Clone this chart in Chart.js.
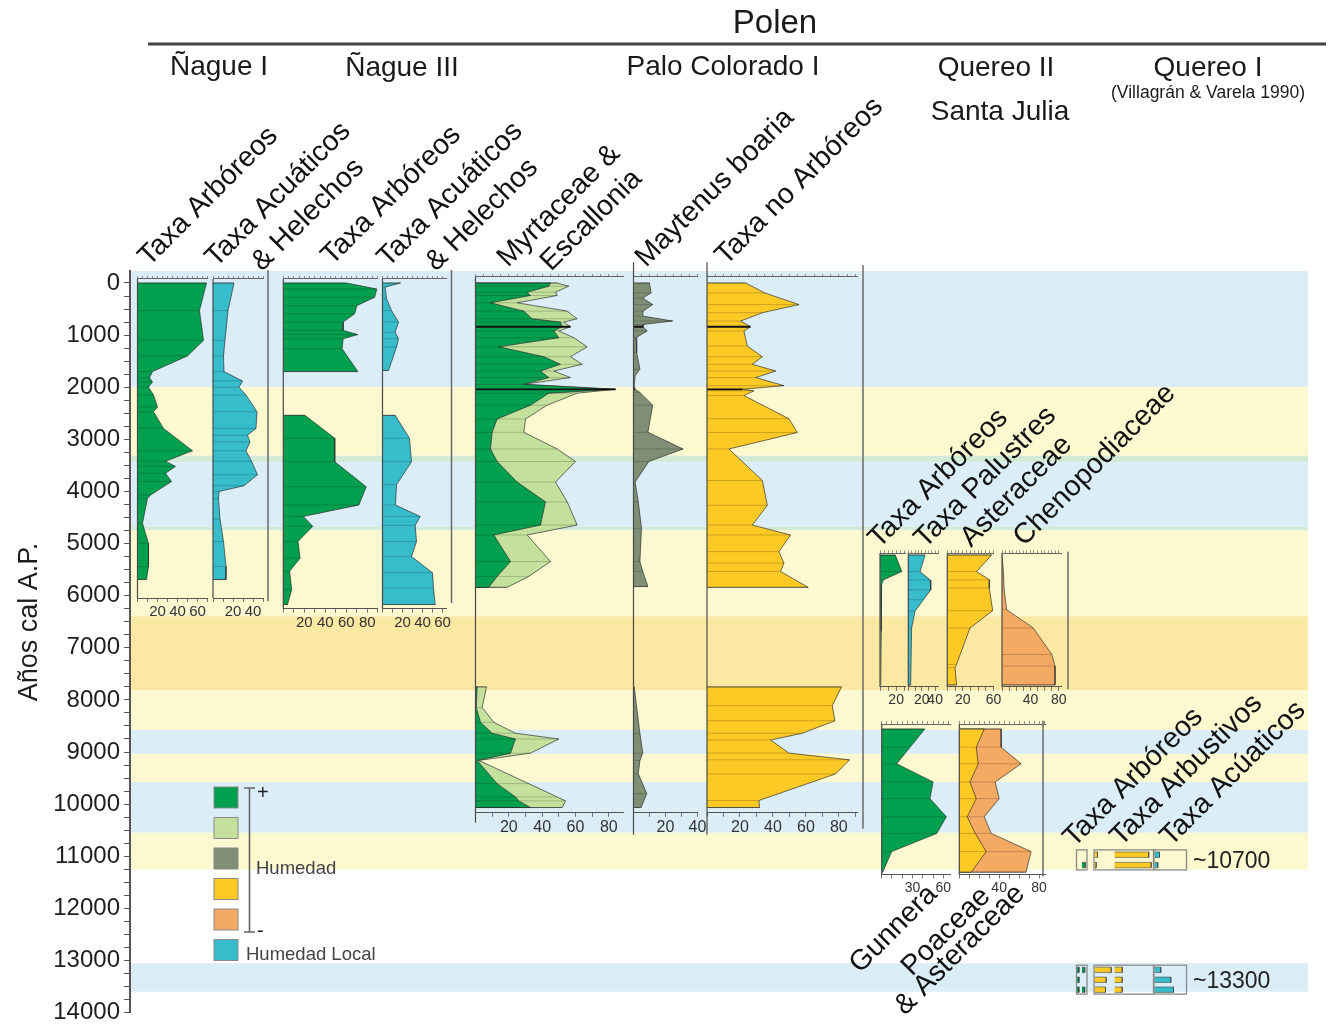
<!DOCTYPE html>
<html>
<head>
<meta charset="utf-8">
<script src="https://cdn.jsdelivr.net/npm/chart.js@4.4.1/dist/chart.umd.min.js"></script>
<style>
  html, body { margin: 0; padding: 0; background: #ffffff; }
  canvas { display: block; }
</style>
</head>
<body>
<canvas id="pollen" width="1332" height="1031"></canvas>
<script>
// ---------------- Data (ages in cal yr BP, values in %) ----------------

// Ñague I
const nagueI_arbAges = [0, 530, 1100, 1400, 1700, 1820, 1900, 2000, 2150, 2380, 2470, 2790, 3220, 3420, 3520, 3650, 3810, 4070, 4130, 4610, 5000, 5440, 5690];
const nagueI_arb     = [69, 62, 66, 50, 15, 12, 15, 11, 16, 20, 16, 26, 55, 28, 38, 28, 34, 13, 10, 5, 11, 11, 9];
const nagueI_acuAges = [0, 530, 1100, 1400, 1700, 1880, 2000, 2150, 2470, 2790, 2920, 3050, 3220, 3420, 3680, 3890, 4000, 4140, 4530, 4960, 5440, 5690];
const nagueI_acu     = [21, 15, 12, 10.5, 11, 29.5, 26, 33, 44, 43, 34.5, 37, 33, 38.5, 44.5, 31, 6, 5.5, 7, 10.5, 13, 13];

// Ñague III (two sections)
const nagueIII_arbAgesA = [0, 115, 275, 435, 590, 750, 910, 990, 1070, 1260, 1700];
const nagueIII_arbA     = [60, 89, 87, 70, 68, 57, 57, 71, 57, 56, 71];
const nagueIII_arbAgesB = [2540, 2980, 3430, 3910, 4260, 4480, 4670, 4960, 5280, 5530, 5880, 6170];
const nagueIII_arbB     = [20.6, 49, 49, 79, 72, 19, 28, 14, 16, 6, 8, 4];
const nagueIII_acuAgesA = [0, 80, 300, 530, 750, 945, 1070, 1230, 1680];
const nagueIII_acuA     = [18, 2.7, 4, 9, 16, 12.7, 16, 14, 6];
const nagueIII_acuAgesB = [2540, 2980, 3430, 3870, 4260, 4480, 4650, 4960, 5250, 5560, 5850, 6170];
const nagueIII_acuB     = [12.7, 27, 29, 14, 13, 37.7, 32.7, 34, 29, 50, 51, 52.7];

// Palo Colorado I (two sections)
const paloAgesA   = [0, 62, 177, 240, 380, 540, 686, 750, 840, 920, 1050, 1225, 1415, 1560, 1690, 1815, 1945, 2040, 2115, 2345, 2610, 2865, 3185, 3425, 3820, 4200, 4645, 4835, 5345, 5630, 5840];
const myrtaceaeA  = [45, 44, 31, 33, 9, 29, 34, 51, 52, 47, 50, 14, 41, 51, 39, 44, 29, 84, 44, 33, 13, 10, 9, 13, 25, 42, 39, 11, 21, 13, 8];
const escalloniaA = [4, 12, 17, 16, 16, 26, 27, 2, 5, 3, 9, 53, 16, 13, 8, 13, 0, 0, 17, 10, 17, 19, 40, 47, 23, 13, 22, 20, 24, 19, 11];
const paloAgesB   = [7750, 8145, 8430, 8640, 8750, 9022, 9162, 9607, 9862, 9938, 10065];
const myrtaceaeB  = [1, 0.5, 3, 10, 24, 21, 1, 13, 24, 26, 33];
const escalloniaB = [5.6, 3.5, 8, 14, 26, 12, 1, 19, 25, 28, 19];

const maytenusAgesA = [0, 190, 290, 415, 540, 635, 730, 795, 840, 920, 1050, 1335, 1655, 1780, 1970, 2040, 2100, 2345, 2865, 3185, 3425, 3820, 4200, 4710, 5345, 5535, 5825];
const maytenusA     = [10, 11, 5.8, 12, 6, 5.8, 24.5, 6, 6, 8.6, 1.6, 2, 4, 1, 0.5, 1, 4, 12, 9, 31, 9.6, 1, 3, 5, 4, 5.8, 9];
const maytenusAgesB = [7750, 7890, 8145, 8640, 9022, 9162, 9417, 9798, 10065];
const maytenusB     = [0.5, 1, 2, 4, 5.8, 4, 3, 8.3, 4.8];

const noArbAgesA = [0, 190, 415, 570, 730, 840, 920, 1210, 1415, 1560, 1690, 1815, 1970, 2040, 2070, 2160, 2605, 2870, 3185, 3790, 4265, 4645, 4835, 5155, 5375, 5535, 5840];
const noArbA     = [23.4, 35, 55.8, 33.6, 20.4, 26.4, 22.4, 24.4, 33.6, 27.5, 41.7, 29.5, 46.7, 21.4, 28.5, 22.4, 49.7, 54.8, 13.3, 33.6, 36.6, 27.5, 50.7, 43.6, 46.7, 44.6, 61.4];
const noArbAgesB = [7750, 8110, 8400, 8640, 8770, 9020, 9150, 9420, 9930, 10065];
const noArbB     = [81.6, 76, 77.6, 57.8, 38.6, 49.7, 86.5, 78, 31.5, 31.9];
const paloMarkedAges = [840, 2040];

// Quereo II / Santa Julia
const sjArbAges  = [5220, 5537, 5697, 5792, 6046, 6682, 7713];
const sjArb      = [19, 27, 4, 2, 1.5, 1.5, 1];
const sjPalAges  = [5220, 5537, 5697, 5887, 6078, 6300, 6619, 7713];
const sjPal      = [25, 17.5, 32.5, 33.5, 22.5, 10, 5, 3.5];
const sjAstAges  = [5220, 5537, 5697, 5855, 6288, 6619, 7318, 7382, 7713];
const sjAst      = [57.6, 38, 55, 54.5, 59, 29.5, 12, 10, 12];
const sjChenAges = [5220, 5537, 5887, 6269, 6619, 7128, 7350, 7713];
const sjChen     = [0.5, 2, 3, 6.6, 44, 70, 74.6, 74.6];

const sjLowAges     = [8558, 8907, 9226, 9575, 9894, 10243, 10561, 10911, 11306];
const gunnera       = [42, 27.6, 14.6, 50, 47, 63, 53.6, 9.7, 1];
const poaceae       = [25, 17, 19, 10.7, 17, 8, 16, 27, 12];
const asteraceaeLow = [17, 25, 43, 25.3, 23, 17, 16, 45, 55];

// Quereo I (Villagrán & Varela 1990)
const quereoI_ages    = [10970, 11170, 13180, 13370, 13560];
const quereoI_arbA    = [0, 0, 4, 4, 4];
const quereoI_arbB    = [0, 6.6, 5.4, 0, 5.4];
const quereoI_arbusA  = [6, 3.4, 33.4, 23.4, 22];
const quereoI_arbusB  = [68.6, 73.4, 15.4, 15.4, 15.4];
const quereoI_acu     = [10, 6.6, 12.6, 32.6, 38];
const quereoI_dates   = ['~10700', '~13300'];
const quereoI_groups  = [[10878, 11262], [13090, 13645]];

// Climatic phases (background bands)
const bandFrom = [-230, 2000, 3315, 3440, 4680, 4745, 6396, 7815, 8578, 9036, 9576, 10549, 13050];
const bandTo   = [2000, 3315, 3440, 4680, 4745, 6396, 7815, 8578, 9036, 9576, 10549, 11255, 13600];
const bandType = ['humid', 'dry', 'mixed', 'humid', 'mixed', 'dry', 'arid', 'dry', 'humid', 'dry', 'humid', 'dry', 'humid'];

// Axis ticks
const ageMin = -230, ageMax = 14000, ageMinorStep = 250, ageLabelStep = 1000;

// ---------------- Styling ----------------
const FONT = '"Liberation Sans", Arial, Helvetica, sans-serif';
const COL = {
  dark: '#00a04f', light: '#c3e19c', grey: '#7f8f75',
  yellow: '#fcc925', orange: '#f5aa64', cyan: '#37bccc'
};
const BAND_COL = { humid: '#dbeef8', dry: '#fcf8d0', mixed: '#d3ead7', arid: '#fbe8a3' };

// Panel layout: horizontal extent in px, scale max, vertical extent in ages
const panels = [
  { id: 'n1a', left: 137.5, right: 207.5, max: 70,   top: -77,  bottom: 6046,  labels: [20, 40, 60],     fs: 15 },
  { id: 'n1b', left: 213,   right: 263,   max: 50,   top: -77,  bottom: 6046,  labels: [20, 40],         fs: 15 },
  { id: 'n3a', left: 283.3, right: 377.8, max: 90,   top: -77,  bottom: 6250,  labels: [20, 40, 60, 80], fs: 15 },
  { id: 'n3b', left: 382.5, right: 446.5, max: 64,   top: -77,  bottom: 6250,  labels: [20, 40, 60],     fs: 15 },
  { id: 'pc1', left: 475.5, right: 623,   max: 88.5, top: -116, bottom: 10167, labels: [20, 40, 60, 80], fs: 16, lineTo: 10358 },
  { id: 'pc2', left: 633.5, right: 697.5, max: 40,   top: -116, bottom: 10167, labels: [20, 40],         fs: 16, lineFrom: -400, lineTo: 10587 },
  { id: 'pc3', left: 707,   right: 857,   max: 91,   top: -116, bottom: 10167, labels: [20, 40, 60, 80], fs: 16, lineFrom: -400, lineTo: 10587 },
  { id: 'sj1', left: 880,   right: 905,   max: 31,   top: 5188, bottom: 7750,  labels: [20],             fs: 14 },
  { id: 'sj2', left: 908.3, right: 938.5, max: 45,   top: 5188, bottom: 7750,  labels: [20, 40],         fs: 14 },
  { id: 'sj3', left: 947.3, right: 993.5, max: 60,   top: 5188, bottom: 7750,  labels: [20, 60],         fs: 14 },
  { id: 'sj4', left: 1002,  right: 1061.7, max: 84,  top: 5188, bottom: 7750,  labels: [40, 80],         fs: 14 },
  { id: 'sj5', left: 881.7, right: 950,   max: 66.5, top: 8463, bottom: 11350, labels: [30, 60],         fs: 14 },
  { id: 'sj6', left: 959.3, right: 1045,  max: 86,   top: 8463, bottom: 11350, labels: [40, 80],         fs: 14 },
  { id: 'qa',  left: 1077,  right: 1082,  max: 10,   hidden: true },
  { id: 'qb',  left: 1082,  right: 1087,  max: 10,   hidden: true },
  { id: 'qc',  left: 1094.5, right: 1113.5, max: 38, hidden: true },
  { id: 'qd',  left: 1114.5, right: 1153.5, max: 78, hidden: true },
  { id: 'qe',  left: 1154.5, right: 1186.5, max: 64, hidden: true }
];

// Vertical separators between sites
const separators = [
  { x: 268,   from: -250, to: 6105 },
  { x: 451.5, from: -250, to: 6140 },
  { x: 863,   from: -345, to: 10470 },
  { x: 1068,  from: 5150, to: 7795 },
  { x: 1043,  from: 8400, to: 11390 }
];

// ---------------- Dataset builders ----------------
function shapePoints(segs) {
  const pts = [];
  segs.forEach(([ages, vals], k) => {
    if (k) pts.push({ x: null, y: null });
    pts.push({ x: 0, y: ages[0] });
    ages.forEach((a, i) => pts.push({ x: vals[i], y: a }));
    pts.push({ x: 0, y: ages[ages.length - 1] });
  });
  return pts;
}
function sampleLines(segs, only) {
  const pts = [];
  segs.forEach(([ages, vals]) => ages.forEach((a, i) => {
    if (only && !only.includes(a)) return;
    pts.push({ x: 0, y: a }, { x: vals[i], y: a }, { x: null, y: null });
  }));
  return pts;
}
function barPoints(ages, vals, half) {
  const pts = [];
  ages.forEach((a, i) => {
    if (!vals[i]) return;
    if (pts.length) pts.push({ x: null, y: null });
    pts.push({ x: 0, y: a - half }, { x: vals[i], y: a - half }, { x: vals[i], y: a + half }, { x: 0, y: a + half });
  });
  return pts;
}
const sum = (a, b) => a.map((v, i) => v + b[i]);

const curves = [
  { axis: 'n1a', color: COL.dark,   segs: [[nagueI_arbAges, nagueI_arb]] },
  { axis: 'n1b', color: COL.cyan,   segs: [[nagueI_acuAges, nagueI_acu]] },
  { axis: 'n3a', color: COL.dark,   segs: [[nagueIII_arbAgesA, nagueIII_arbA], [nagueIII_arbAgesB, nagueIII_arbB]] },
  { axis: 'n3b', color: COL.cyan,   segs: [[nagueIII_acuAgesA, nagueIII_acuA], [nagueIII_acuAgesB, nagueIII_acuB]] },
  { axis: 'pc1', color: COL.light,  segs: [[paloAgesA, sum(myrtaceaeA, escalloniaA)], [paloAgesB, sum(myrtaceaeB, escalloniaB)]], under: true, marked: true },
  { axis: 'pc1', color: COL.dark,   segs: [[paloAgesA, myrtaceaeA], [paloAgesB, myrtaceaeB]], noLines: true },
  { axis: 'pc2', color: COL.grey,   segs: [[maytenusAgesA, maytenusA], [maytenusAgesB, maytenusB]], marked: true },
  { axis: 'pc3', color: COL.yellow, segs: [[noArbAgesA, noArbA], [noArbAgesB, noArbB]], marked: true },
  { axis: 'sj1', color: COL.dark,   segs: [[sjArbAges, sjArb]] },
  { axis: 'sj2', color: COL.cyan,   segs: [[sjPalAges, sjPal]] },
  { axis: 'sj3', color: COL.yellow, segs: [[sjAstAges, sjAst]] },
  { axis: 'sj4', color: COL.orange, segs: [[sjChenAges, sjChen]] },
  { axis: 'sj5', color: COL.dark,   segs: [[sjLowAges, gunnera]] },
  { axis: 'sj6', color: COL.orange, segs: [[sjLowAges, sum(poaceae, asteraceaeLow)]], under: true },
  { axis: 'sj6', color: COL.yellow, segs: [[sjLowAges, poaceae]], noLines: true }
];

const datasets = [];
curves.forEach(c => {
  datasets.push({
    data: shapePoints(c.segs), xAxisID: c.axis, yAxisID: 'y',
    showLine: true, fill: 'shape', backgroundColor: c.color,
    borderColor: 'rgba(45,45,45,0.85)', borderWidth: 0.8, pointRadius: 0,
    order: c.under ? 6 : 5
  });
  if (!c.noLines) {
    datasets.push({
      data: sampleLines(c.segs), xAxisID: c.axis, yAxisID: 'y',
      showLine: true, fill: false, borderColor: 'rgba(0,0,0,0.28)', borderWidth: 0.7,
      pointRadius: 0, order: 3
    });
  }
  if (c.marked) {
    datasets.push({
      data: sampleLines(c.segs, paloMarkedAges), xAxisID: c.axis, yAxisID: 'y',
      showLine: true, fill: false, borderColor: '#111', borderWidth: 1.8,
      pointRadius: 0, order: 2
    });
  }
});
// Quereo I sample bars
[['qa', quereoI_arbA, COL.dark], ['qb', quereoI_arbB, COL.dark], ['qc', quereoI_arbusA, COL.yellow],
 ['qd', quereoI_arbusB, COL.yellow], ['qe', quereoI_acu, COL.cyan]].forEach(([ax, vals, color]) => {
  datasets.push({
    data: barPoints(quereoI_ages, vals, 52), xAxisID: ax, yAxisID: 'y',
    showLine: true, fill: 'shape', backgroundColor: color,
    borderColor: 'rgba(60,60,60,0.8)', borderWidth: 0.7, pointRadius: 0, order: 4
  });
});

// ---------------- Scales ----------------
const range = (a, b, s) => { const r = []; for (let v = a; v <= b + 1e-9; v += s) r.push(+v.toFixed(4)); return r; };

const scales = {
  x: { type: 'linear', display: false, min: 0, max: 1 },
  y: {
    type: 'linear', position: 'left', reverse: true, min: ageMin, max: ageMax,
    afterBuildTicks: s => { s.ticks = range(0, ageMax, ageMinorStep).map(v => ({ value: v })); },
    afterFit: s => { s.width = 130; },
    ticks: {
      autoSkip: false, padding: 4, color: '#1e1e1e', font: { size: 24 },
      callback: v => (v % ageLabelStep === 0 ? String(v) : '')
    },
    grid: { drawOnChartArea: false, tickLength: 6, tickColor: '#555', tickWidth: 1 },
    border: { color: '#555', width: 2 }
  }
};
panels.forEach(p => {
  const common = {
    type: 'linear', axis: 'x', min: 0, max: p.max, display: !p.hidden,
    afterFit: s => { s.height = 0; }
  };
  scales[p.id] = Object.assign({}, common, {
    position: 'bottom',
    afterBuildTicks: s => { s.ticks = range(0, p.max, 10).map(v => ({ value: v })); },
    ticks: {
      autoSkip: false, maxRotation: 0, padding: 1, color: '#333', font: { size: p.fs || 15 },
      callback: v => (p.labels && p.labels.includes(v) ? String(v) : '')
    },
    grid: { drawOnChartArea: false, tickLength: 4, tickColor: '#555', tickWidth: 0.8 },
    border: { color: '#555', width: 1 }
  });
  scales[p.id + 'Top'] = Object.assign({}, common, {
    position: 'top',
    afterBuildTicks: s => { s.ticks = range(0, p.max, 5).map(v => ({ value: v })); },
    ticks: { display: false },
    grid: { drawOnChartArea: false, tickLength: 3, tickColor: '#666', tickWidth: 0.7 },
    border: { color: '#666', width: 1 }
  });
});

// ---------------- Plugin: panel placement, backgrounds, annotations ----------------
function txt(ctx, str, x, y, size, o = {}) {
  ctx.save();
  ctx.font = `${o.weight || 'normal'} ${size}px ${FONT}`;
  ctx.fillStyle = o.color || '#1a1a1a';
  ctx.textAlign = o.align || 'left';
  ctx.textBaseline = o.baseline || 'alphabetic';
  ctx.translate(x, y);
  if (o.rot) ctx.rotate(o.rot);
  ctx.fillText(str, 0, 0);
  ctx.restore();
}
function vline(ctx, x, y1, y2, color, w) {
  ctx.save();
  ctx.strokeStyle = color; ctx.lineWidth = w;
  ctx.beginPath(); ctx.moveTo(x, y1); ctx.lineTo(x, y2); ctx.stroke();
  ctx.restore();
}

const D45 = -Math.PI / 4;
const columnTitles = [
  ['Taxa Arbóreos', 149, 267], ['Taxa Acuáticos', 216, 268], ['& Helechos', 262, 272],
  ['Taxa Arbóreos', 332, 266], ['Taxa Acuáticos', 388, 268], ['& Helechos', 436, 272],
  ['Myrtaceae &', 508, 268], ['Escallonia', 551, 272],
  ['Maytenus boaria', 646, 268], ['Taxa no Arbóreos', 726, 266],
  ['Taxa Arbóreos', 879, 549], ['Taxa Palustres', 925, 549], ['Asteraceae', 971, 548], ['Chenopodiaceae', 1024, 547],
  ['Taxa Arbóreos', 1074, 848], ['Taxa Arbustivos', 1121, 847], ['Taxa Acúaticos', 1171, 847],
  ['Gunnera', 860, 974], ['Poaceae', 912, 977], ['& Asteraceae', 905, 1016]
];
const siteTitles = [
  ['Ñague I', 219, 75, 28], ['Ñague III', 402, 76, 28], ['Palo Colorado I', 723, 75, 28],
  ['Quereo II', 996, 76, 28], ['Quereo I', 1208, 76, 28], ['Santa Julia', 1000, 120, 28]
];
const legendItems = [COL.dark, COL.light, COL.grey, COL.yellow, COL.orange, COL.cyan];

const diagramPlugin = {
  id: 'diagram',
  afterLayout(chart) {
    const y = chart.scales.y;
    panels.forEach(p => {
      const place = (s, top, h) => {
        s.left = p.left; s.right = p.right; s.width = p.right - p.left;
        s.top = top; s.bottom = top + h; s.height = h;
        s.configure();
        s._gridLineItems = null; s._labelItems = null;
      };
      const yb = p.hidden ? 0 : y.getPixelForValue(p.bottom);
      const yt = p.hidden ? 0 : y.getPixelForValue(p.top);
      place(chart.scales[p.id], yb, 20);
      place(chart.scales[p.id + 'Top'], yt - 6, 6);
    });
  },
  beforeDraw(chart) {
    const { ctx } = chart;
    const y = chart.scales.y;
    ctx.save();
    bandFrom.forEach((f, i) => {
      const y1 = y.getPixelForValue(f), y2 = y.getPixelForValue(bandTo[i]);
      ctx.fillStyle = BAND_COL[bandType[i]];
      ctx.fillRect(130, y1, 1308 - 130, y2 - y1);
    });
    ctx.restore();
  },
  afterDraw(chart) {
    const { ctx } = chart;
    const y = chart.scales.y;

    // panel base lines
    panels.forEach(p => {
      if (p.hidden) return;
      const x = chart.scales[p.id].getPixelForValue(0);
      vline(ctx, x, y.getPixelForValue(p.lineFrom ?? p.top), y.getPixelForValue(p.lineTo ?? p.bottom), '#4a4a4a', 1.2);
    });
    separators.forEach(s => vline(ctx, s.x, y.getPixelForValue(s.from), y.getPixelForValue(s.to), '#6a6a6a', 1.5));

    // Quereo I sample boxes
    const boxCols = [['qa', 'qb'], ['qc', 'qd'], ['qe', 'qe']];
    ctx.save();
    ctx.strokeStyle = '#8a8a8a'; ctx.lineWidth = 1.3;
    quereoI_groups.forEach(([a0, a1], g) => {
      const yt = y.getPixelForValue(a0), yb = y.getPixelForValue(a1);
      boxCols.forEach(([l, r]) => {
        const xl = chart.scales[l].getPixelForValue(0) - 0.5;
        const xr = chart.scales[r].getPixelForValue(chart.scales[r].max);
        ctx.strokeRect(xl, yt, xr - xl, yb - yt);
      });
      txt(ctx, quereoI_dates[g], 1193, (yt + yb) / 2 + 8, 23, { color: '#222' });
    });
    ctx.restore();

    // headers
    txt(ctx, 'Polen', 775, 33, 33, { align: 'center' });
    ctx.save();
    ctx.strokeStyle = '#444'; ctx.lineWidth = 3;
    ctx.beginPath(); ctx.moveTo(148, 44); ctx.lineTo(1326, 44); ctx.stroke();
    ctx.restore();
    siteTitles.forEach(([t, x, yy, s]) => txt(ctx, t, x, yy, s, { align: 'center' }));
    txt(ctx, '(Villagrán & Varela 1990)', 1208, 98, 17.5, { align: 'center' });

    // column titles
    columnTitles.forEach(([t, x, yy]) => txt(ctx, t, x, yy, 28.5, { rot: D45, color: '#111' }));

    // age axis title
    txt(ctx, 'Años cal A.P.', 37, 622, 27, { rot: -Math.PI / 2, align: 'center', color: '#1e1e1e' });

    // moisture legend
    ctx.save();
    legendItems.forEach((c, i) => {
      const ty = 787 + i * 30.5;
      ctx.fillStyle = c; ctx.fillRect(214, ty, 24, 21);
      ctx.strokeStyle = '#8a8a8a'; ctx.lineWidth = 1; ctx.strokeRect(214, ty, 24, 21);
    });
    ctx.strokeStyle = '#666'; ctx.lineWidth = 1.6;
    ctx.beginPath();
    ctx.moveTo(244, 788); ctx.lineTo(255, 788);
    ctx.moveTo(249.5, 788); ctx.lineTo(249.5, 932);
    ctx.moveTo(244, 932); ctx.lineTo(255, 932);
    ctx.stroke();
    ctx.restore();
    txt(ctx, '+', 257, 799, 20, { color: '#222' });
    txt(ctx, '-', 257, 937, 20, { color: '#222' });
    txt(ctx, 'Humedad', 256, 874, 18.5, { color: '#444' });
    txt(ctx, 'Humedad Local', 246, 960, 18.5, { color: '#444' });
  }
};

Chart.defaults.font.family = FONT;
Chart.defaults.color = '#222';

new Chart(document.getElementById('pollen'), {
  type: 'scatter',
  data: { datasets },
  options: {
    responsive: false,
    animation: false,
    events: [],
    devicePixelRatio: 1,
    layout: { padding: { left: 0, top: 271, right: 22, bottom: 14 } },
    plugins: { legend: { display: false }, tooltip: { enabled: false } },
    elements: { line: { tension: 0, spanGaps: false } },
    scales
  },
  plugins: [diagramPlugin]
});
</script>
</body>
</html>
